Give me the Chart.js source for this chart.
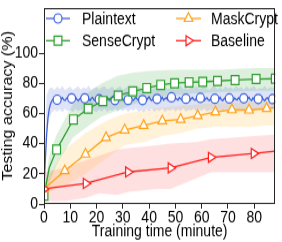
<!DOCTYPE html>
<html><head><meta charset="utf-8">
<style>
html,body{margin:0;padding:0;background:#fff}
body{width:282px;height:242px}
#c{display:block;transform:scaleY(1.152381);transform-origin:0 0}
</style>
<script src="https://cdn.jsdelivr.net/npm/chart.js@4/dist/chart.umd.min.js"></script>
</head><body>
<canvas id="c" width="282" height="210"></canvas>
<script>
// ---------------- data ----------------
const xTicks = [0, 10, 20, 30, 40, 50, 60, 70, 80];
const yTicks = [0, 20, 40, 60, 80, 100];

// Plaintext: sampled every 0.5 minute from t = 0
const plainStep = 0.5;
const plainAcc = [
 10, 29, 46, 57, 63, 66.5, 68.2, 69.5, 68.6, 69.8,
 69.1, 70.2, 68.9, 69.6, 70.4, 69.0, 68.5, 69.9, 70.6, 69.3,
 69.8, 70.0, 68.8, 69.7, 70.7, 69.2, 68.4, 69.5, 70.3, 68.9,
 69.4, 70.0, 69.1, 70.9, 69.4, 68.5, 70.0, 70.6, 69.0, 68.2,
 69.6, 70.4, 69.3, 68.7, 70.2, 69.4, 68.3, 69.8, 70.8, 69.1,
 68.6, 69.5, 70.4, 69.0, 68.8, 69.7, 70.5, 68.9, 69.3, 70.7,
 69.2, 68.4, 69.9, 70.3, 68.9, 69.6, 70.8, 69.0, 68.5, 69.9,
 70.6, 69.2, 68.7, 70.1, 69.5, 68.8, 70.4, 69.1, 68.6, 70.0,
 70.9, 69.3, 68.4, 69.7, 70.5, 69.0, 69.6, 70.8, 68.9, 69.4,
 70.6, 68.7, 69.8, 70.3, 69.1, 68.5, 69.9, 70.7, 69.2, 68.6,
 70.1, 69.5, 68.8, 70.4, 69.6, 68.9, 70.2, 69.0, 69.7, 70.9,
 69.3, 68.4, 69.8, 70.5, 69.1, 68.7, 70.0, 69.4, 68.8, 70.3,
 70.8, 69.2, 68.5, 69.9, 70.4, 69.0, 68.6, 69.8, 70.6, 69.3,
 69.7, 70.2, 68.9, 69.5, 70.7, 69.1, 68.4, 69.6, 70.5, 69.0,
 68.8, 69.9, 70.6, 69.2, 68.6, 70.1, 69.4, 68.9, 70.3, 69.5,
 68.7, 69.8, 70.0, 69.2, 68.5, 69.7, 70.8, 69.1, 68.6, 70.2,
 69.4, 68.9, 70.5, 69.6, 68.8, 69.3, 70.7, 69.0, 68.4, 69.8,
 70.4, 69.1, 68.7, 70.0, 69.5, 68.9, 69.7
];
const plainMarkerTimes = [5, 10.5, 15.5, 21, 27, 32, 37.5, 43, 48.5, 54, 59.5, 65, 70.5, 76, 81.5, 87];
// Plaintext band: sampled every minute from t = 0
const plainBandStep = 1;
const plainBandHigh = [
 12, 72, 76.5, 77.2, 75.6, 77.8, 76.1, 78.2, 75.3, 76.7,
 77.9, 75.4, 76.8, 78.1, 75.7, 77.2, 76.3, 78.5, 75.5, 76.9,
 77.6, 75.8, 77.3, 78.3, 75.9, 76.6, 77.8, 75.4, 77.1, 78.0,
 75.6, 76.9, 78.4, 75.8, 77.0, 76.2, 78.1, 75.5, 77.4, 76.7,
 78.2, 75.9, 76.8, 77.9, 75.6, 77.3, 78.3, 76.0, 76.9, 77.7,
 75.7, 77.2, 78.4, 76.1, 77.0, 75.8, 77.9, 76.5, 78.2, 75.9,
 77.1, 78.0, 76.3, 75.7, 77.6, 78.3, 76.0, 77.2, 75.8, 78.1,
 76.6, 77.4, 75.9, 78.2, 76.8, 77.5, 75.7, 78.0, 76.4, 77.3,
 78.1, 75.8, 77.0, 76.5, 78.3, 75.9, 77.4, 76.7, 77.8
];
const plainBandLow = [
 8, 45, 57, 60.5, 62.4, 61.0, 62.8, 60.7, 63.1, 61.5,
 62.2, 60.8, 63.0, 61.4, 62.6, 60.9, 62.9, 61.2, 63.3, 61.7,
 60.9, 62.5, 61.3, 63.1, 60.8, 62.4, 61.6, 63.2, 61.0, 62.7,
 61.4, 63.0, 60.9, 62.6, 61.8, 63.4, 61.1, 62.3, 60.8, 62.9,
 61.5, 63.2, 61.0, 62.6, 61.7, 63.3, 60.9, 62.5, 61.8, 63.0,
 61.2, 62.8, 61.5, 63.4, 61.0, 62.4, 61.9, 63.1, 60.9, 62.7,
 61.6, 63.2, 61.1, 62.5, 61.8, 63.3, 60.9, 62.6, 61.4, 63.0,
 61.7, 62.4, 61.0, 63.2, 61.5, 62.8, 61.2, 63.1, 61.6, 62.5,
 61.1, 63.0, 61.8, 62.4, 61.3, 63.2, 61.7, 62.6, 61.9
];

// SenseCrypt
const senseTime = [0, 2, 4.8, 11.2, 16.8, 22.4, 28.2, 33.8, 39.1, 44.4, 49.7, 55.2, 60.4, 66, 72.7, 80.7, 88];
const senseAcc  = [5.5, 24, 36, 56, 63.2, 68.2, 71.8, 74.6, 76.8, 78.9, 80, 80.6, 80.9, 81.5, 82.1, 82.8, 83];
const senseMarkerTimes = [0, 4.8, 11.2, 16.8, 22.4, 28.2, 33.8, 39.1, 44.4, 49.7, 55.2, 60.4, 66, 72.7, 80.7, 88];
const senseBandTime = [0, 2, 4.8, 11, 17, 22, 28, 34, 39, 44, 50, 55, 60, 66, 73, 81, 88];
const senseBandLow  = [3, 14, 26, 44, 52, 58, 62, 66, 69, 71, 72, 73, 73.5, 74, 74.5, 75, 75];
const senseBandHigh = [9, 32, 46, 66, 74, 80, 85, 87, 88, 88.5, 89, 89, 89, 89, 89.5, 90, 90];

// MaskCrypt
const maskTime = [0, 7.9, 15.8, 23.6, 30.7, 37.9, 45, 52, 58.5, 65.2, 71.5, 78, 84.7, 88];
const maskAcc  = [10, 22, 33, 44, 49, 52, 55, 56, 58.5, 61, 62.4, 62.2, 63.3, 64];
const maskMarkerTimes = [0, 7.9, 15.8, 23.6, 30.7, 37.9, 45, 52, 58.5, 65.2, 71.5, 78, 84.7];
const maskBandLow  = [7, 12, 20, 30, 39, 41, 45, 47, 50, 51, 51, 51, 52, 52];
const maskBandHigh = [13, 36, 47, 55, 60, 62, 64, 65, 66, 67, 67, 68, 68, 68];

// Baseline
const baseTime = [0, 15.9, 32, 48.2, 63.5, 79.8, 88];
const baseAcc  = [10, 13.6, 21.2, 23.9, 30.9, 33.5, 35];
const baseMarkerTimes = [0, 15.9, 32, 48.2, 63.5, 79.8];
const baseBandTime = [0, 8, 15.9, 21, 28, 32, 43, 48.2, 58, 63.5, 79.8, 88];
const baseBandLow  = [2, 2, 4, 7, 6, 8, 10, 10, 17, 21, 21, 21];
const baseBandHigh = [21, 24, 29, 32, 36, 37, 39, 40, 41, 43, 45, 46];

// ---------------- styles ----------------
const BLUE = '#3f63dc', GREEN = '#2f9e2f', ORANGE = '#ffa31a', RED = '#ff2020';
const FONT = "'Liberation Sans', Arial, sans-serif";

const pts = (xs, ys) => ys.map((y, i) => ({x: xs[i], y}));
const stepPts = (step, ys) => ys.map((y, i) => ({x: i * step, y}));
const markAt = (times, r) => c => (c.raw && times.indexOf(c.raw.x) >= 0) ? r : 0;

function lineDs(label, data, color, style, r, times, rot) {
  return {
    label, data, borderColor: color, backgroundColor: '#fff',
    borderWidth: 1.3, pointStyle: style, pointRotation: rot || 0,
    pointRadius: markAt(times, r), pointHoverRadius: markAt(times, r),
    pointBorderWidth: 1.2, pointBorderColor: color, pointBackgroundColor: '#fff',
    tension: 0, fill: false, order: 0
  };
}
function bandDs(data, fillColor, fill) {
  return {
    data, borderWidth: 0, borderColor: 'rgba(0,0,0,0)', pointRadius: 0,
    backgroundColor: fillColor, fill: fill, tension: 0, order: 1
  };
}

const datasets = [
  lineDs('Baseline', pts(baseTime, baseAcc), RED, 'triangle', 5, baseMarkerTimes, 90),
  lineDs('MaskCrypt', pts(maskTime, maskAcc), ORANGE, 'triangle', 5, maskMarkerTimes),
  lineDs('SenseCrypt', pts(senseTime, senseAcc), GREEN, 'rect', 5.5, senseMarkerTimes),
  lineDs('Plaintext', stepPts(plainStep, plainAcc), BLUE, 'circle', 4, plainMarkerTimes),
  bandDs(stepPts(plainBandStep, plainBandLow), 'rgba(90,115,215,0.2)', false),
  bandDs(stepPts(plainBandStep, plainBandHigh), 'rgba(90,115,215,0.2)', '-1'),
  bandDs(pts(senseBandTime, senseBandLow), 'rgba(44,160,44,0.16)', false),
  bandDs(pts(senseBandTime, senseBandHigh), 'rgba(44,160,44,0.16)', '-1'),
  bandDs(pts(maskTime, maskBandLow), 'rgba(255,165,0,0.15)', false),
  bandDs(pts(maskTime, maskBandHigh), 'rgba(255,165,0,0.15)', '-1'),
  bandDs(pts(baseBandTime, baseBandLow), 'rgba(255,0,0,0.12)', false),
  bandDs(pts(baseBandTime, baseBandHigh), 'rgba(255,0,0,0.12)', '-1')
];

const legendItems = [
  {label: 'Plaintext',  color: BLUE,   style: 'circle',   r: 4,   rot: 0,  col: 0, row: 0},
  {label: 'SenseCrypt', color: GREEN,  style: 'rect',     r: 5.5, rot: 0,  col: 0, row: 1},
  {label: 'MaskCrypt',  color: ORANGE, style: 'triangle', r: 5,   rot: 0,  col: 1, row: 0},
  {label: 'Baseline',   color: RED,    style: 'triangle', r: 5,   rot: 90, col: 1, row: 1}
];

const framePlugin = {
  id: 'frame',
  afterDraw(chart) {
    const {ctx, chartArea: a} = chart;
    ctx.save();
    ctx.strokeStyle = '#262626';
    ctx.lineWidth = 1;
    ctx.strokeRect(Math.round(a.left) + 0.5, Math.round(a.top) + 0.5,
                   Math.round(a.right - a.left) - 1, Math.round(a.bottom - a.top) - 1);
    // legend
    const colX = [{l: 46, m: 58, r: 70, t: 82}, {l: 176, m: 188.5, r: 201, t: 211}];
    const rowY = [16, 35.3];
    ctx.font = '14px ' + FONT;
    ctx.textBaseline = 'middle';
    ctx.textAlign = 'left';
    legendItems.forEach(it => {
      const c = colX[it.col], y = rowY[it.row];
      ctx.strokeStyle = it.color; ctx.lineWidth = 1.3;
      ctx.beginPath(); ctx.moveTo(c.l, y); ctx.lineTo(c.r, y); ctx.stroke();
      ctx.fillStyle = '#fff'; ctx.lineWidth = 1.2;
      Chart.helpers.drawPoint(ctx, {pointStyle: it.style, radius: it.r, rotation: it.rot, borderWidth: 1.2}, c.m, y);
      ctx.fillStyle = '#000';
      ctx.fillText(it.label, c.t, y + 1);
    });
    ctx.restore();
  }
};

new Chart(document.getElementById('c'), {
  type: 'line',
  data: {datasets},
  plugins: [framePlugin],
  options: {
    responsive: false, animation: false, devicePixelRatio: 1, events: [],
    layout: {padding: {top: 2, right: 4, left: 0, bottom: 0}},
    plugins: {legend: {display: false}, tooltip: {enabled: false}},
    scales: {
      x: {
        type: 'linear', min: 0, max: 88,
        afterBuildTicks: s => { s.ticks = xTicks.map(v => ({value: v})); },
        afterFit: s => { s.height = 33; s.paddingLeft = 0; s.paddingRight = 0; },
        ticks: {font: {family: FONT, size: 14}, color: '#000', padding: 0, maxRotation: 0},
        grid: {drawOnChartArea: false, drawTicks: true, tickLength: 4, color: '#262626'},
        border: {display: false},
        title: {display: true, text: 'Training time (minute)', color: '#000',
                font: {family: FONT, size: 14}, padding: 0}
      },
      y: {
        type: 'linear', min: 0, max: 130,
        afterBuildTicks: s => { s.ticks = yTicks.map(v => ({value: v})); },
        afterFit: s => { s.width = 44; s.paddingTop = 0; s.paddingBottom = 0; },
        ticks: {font: {family: FONT, size: 14}, color: '#000', padding: 1},
        grid: {drawOnChartArea: false, drawTicks: true, tickLength: 5, color: '#262626'},
        border: {display: false},
        title: {display: true, text: 'Testing accuracy (%)', color: '#000',
                font: {family: FONT, size: 14}, padding: 0}
      }
    }
  }
});
</script>
</body></html>
